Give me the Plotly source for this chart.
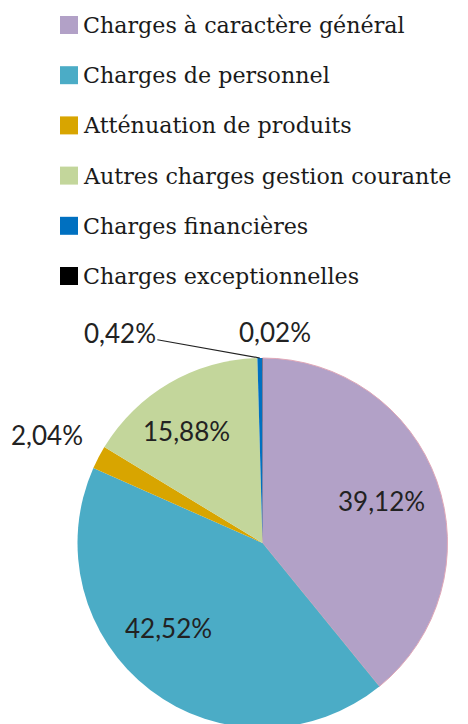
import math
import plotly.graph_objects as go

labels = ["Charges à caractère général", "Charges de personnel", "Atténuation de produits",
          "Autres charges gestion courante", "Charges financières", "Charges exceptionnelles"]
values = [39.12, 42.52, 2.04, 15.88, 0.42, 0.02]
colors = ["#B2A1C7", "#4BACC6", "#D8A500", "#C3D69B", "#0070C0", "#000000"]

W, H = 468, 724
# the page body adds an 8px offset, so positions are given in figure pixels
cx, cy, R = 254.5, 535, 185

fig = go.Figure(go.Pie(
    labels=labels, values=values, sort=False, direction="clockwise", rotation=0,
    marker=dict(colors=colors, line=dict(color=["#E0A8B8", "rgba(0,0,0,0)", "rgba(0,0,0,0)",
                                                "rgba(0,0,0,0)", "rgba(0,0,0,0)", "rgba(0,0,0,0)"],
                                         width=[1, 0, 0, 0, 0, 0])),
    textinfo="none", hoverinfo="label+percent", showlegend=False,
    domain=dict(x=[(cx - R) / W, (cx + R) / W], y=[1 - (cy + R) / H, 1 - (cy - R) / H]),
))

total = sum(values)
def pt(frac, rf):
    th = 2 * math.pi * frac
    return (cx + rf * R * math.sin(th)) / W, 1 - (cy - rf * R * math.cos(th)) / H

txt_font = dict(family="Lato, Open Sans, sans-serif", size=26, color="#222222")
annotations = []
cum = 0
# (kind, radius fraction, xshift, yshift)
placement = [("in", 0.68, 0, 0), ("in", 0.68, -18, 15), ("out", 1.30, -2, -3),
             ("in", 0.70, -11, 0), ("lead", 1.0, 0, 0), ("top", 1.0, 13, 26)]
for v, (kind, rf, xs, ys) in zip(values, placement):
    mid = (cum + v / 2) / total
    cum += v
    s = f"{v:.2f}".replace(".", ",") + "%"
    x, y = pt(mid, rf)
    if kind == "lead":
        annotations.append(dict(x=x, y=y, xref="paper", yref="paper", text=s, showarrow=True,
                                arrowhead=0, arrowwidth=1.2, arrowcolor="#222222", ax=-140, ay=-25,
                                font=txt_font, standoff=0))
    else:
        annotations.append(dict(x=x, y=y, xref="paper", yref="paper", text=s, showarrow=False,
                                font=txt_font, xshift=xs, yshift=ys,
                                xanchor="center", yanchor="middle"))

# manual legend
shapes = []
leg_x0, leg_top, leg_step, sq = 52, 17, 50.2, 18
for i, (lab, col) in enumerate(zip(labels, colors)):
    yc = leg_top + i * leg_step
    shapes.append(dict(type="rect", xref="paper", yref="paper",
                       x0=leg_x0 / W, x1=(leg_x0 + sq) / W,
                       y0=1 - (yc + sq / 2) / H, y1=1 - (yc - sq / 2) / H,
                       fillcolor=col, line=dict(width=0)))
    annotations.append(dict(x=(leg_x0 + sq + 3) / W, y=1 - yc / H, xref="paper", yref="paper",
                            text=lab, showarrow=False, xanchor="left", yanchor="middle",
                            font=dict(family="DejaVu Serif, serif", size=22.2, color="#1A1A1A")))

fig.update_layout(width=W, height=H, margin=dict(l=0, r=0, t=0, b=0),
                  paper_bgcolor="white", plot_bgcolor="white",
                  annotations=annotations, shapes=shapes)
fig.write_html("out.html")
